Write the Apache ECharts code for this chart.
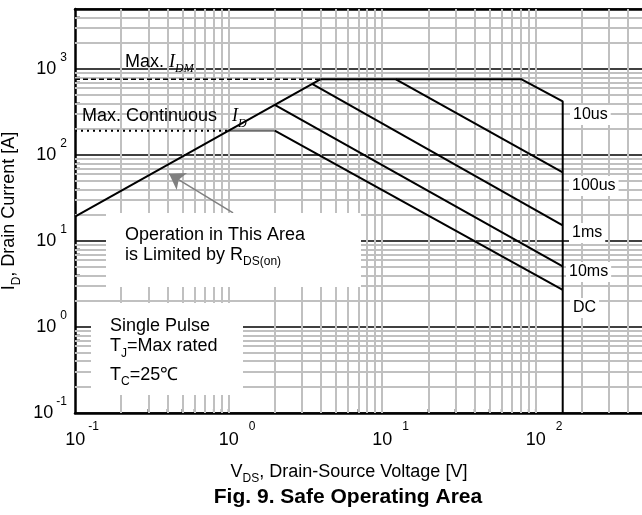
<!DOCTYPE html>
<html>
<head>
<meta charset="utf-8">
<script src="https://cdn.jsdelivr.net/npm/echarts@6/dist/echarts.min.js"></script>
<style>
  html, body { margin: 0; padding: 0; background: #fff; }
  #chart { width: 642px; height: 515px; }
</style>
</head>
<body>
<div id="chart"></div>
<script>
// SOA boundary pieces, points are [V_DS in V, I_D in A]
const rdsOnLimit = [[0.1, 19.2], [3.96, 760]];
const maxIdmLine = [[0.1, 760], [3.96, 760]];
const maxIdLine = [[0.1, 192], [1.0, 192]];
const dcPlateau = [[1.0, 192], [2.0, 192]];
const pulse10us = [[3.96, 760], [81, 760], [150, 420], [150, 0.1]];
const pulse100us = [[12.3, 760], [150, 62.8]];
const pulse1ms = [[3.5, 672], [150, 15.2]];
const pulse10ms = [[2.0, 384], [150, 5.07]];
const dcLine = [[2.0, 192], [150, 2.71]];
const arrowFromTo = [[1.07, 21.3], [0.41, 60.6]];

// log grid lines (2..9 of every decade)
const xGridValues = [0.2, 0.3, 0.4, 0.5, 0.6, 0.7, 0.8, 0.9, 1,
  2, 3, 4, 5, 6, 7, 8, 9, 10,
  20, 30, 40, 50, 60, 70, 80, 90, 100,
  200, 300, 400];
const yGridValues = [0.2, 0.3, 0.4, 0.5, 0.6, 0.7, 0.8, 0.9,
  2, 3, 4, 5, 6, 7, 8, 9,
  20, 30, 40, 50, 60, 70, 80, 90,
  200, 300, 400, 500, 600, 700, 800, 900,
  2000, 3000, 4000];

const SANS = 'Liberation Sans, Arial, sans-serif';
const SERIF = 'Liberation Serif, Times New Roman, serif';
const GRID_GRAY = '#c0c0c0';

var chart = echarts.init(document.getElementById('chart'));

function powLabel(v) {
  var lg = Math.log10(v);
  var e = Math.round(lg);
  if (Math.abs(lg - e) > 1e-6) return '';
  var neg = e < 0 ? 'n' : '';
  return '{m' + neg + '|10}{s' + neg + '|' + e + '}';
}

function curve(data, color, width, type, z) {
  return {
    type: 'line',
    data: data,
    showSymbol: false,
    silent: true,
    z: z || 20,
    lineStyle: { color: color || '#000', width: width || 2, type: type || 'solid', cap: 'butt' }
  };
}

function label(text, x, y) {
  return {
    type: 'text', x: x, y: y, z: 40, silent: true,
    style: {
      text: text, fontSize: 16, fontFamily: SANS, fill: '#000',
      verticalAlign: 'middle', backgroundColor: '#fff', padding: [2, 3]
    }
  };
}

var subRich = {
  n: { fontSize: 18, lineHeight: 26, fontFamily: SANS },
  b: { fontSize: 12, lineHeight: 12, fontFamily: SANS, verticalAlign: 'bottom' },
  i: { fontSize: 18, lineHeight: 26, fontFamily: SERIF, fontStyle: 'italic' },
  ib: { fontSize: 12, lineHeight: 12, fontFamily: SERIF, fontStyle: 'italic', verticalAlign: 'bottom' }
};

function note(text, x, y) {
  return {
    type: 'text', x: x, y: y, z: 30, silent: true,
    style: { text: text, rich: subRich, fill: '#000', verticalAlign: 'middle' }
  };
}

var option = {
  animation: false,
  backgroundColor: '#fff',
  title: {
    text: 'Fig. 9. Safe Operating Area',
    left: 348,
    top: 487,
    textAlign: 'center',
    padding: 0,
    textStyle: { fontSize: 21, fontWeight: 'bold', fontFamily: SANS, color: '#000' }
  },
  grid: { left: 75, right: -1, top: 9, bottom: 102, containLabel: false, outerBoundsMode: 'none' },
  xAxis: [{
    type: 'log',
    logBase: 10,
    min: 0.1,
    max: 500,
    name: '{n|V}{b|DS}{n|, Drain-Source Voltage [V]}',
    nameLocation: 'middle',
    nameGap: 46,
    nameTextStyle: { rich: subRich, color: '#000', padding: [0, 20, 0, 0] },
    axisLine: { show: true, lineStyle: { color: '#000', width: 2.5 } },
    axisTick: { show: false },
    splitLine: { show: false },
    axisLabel: {
      margin: 8,
      color: '#000',
      formatter: powLabel,
      rich: {
        m: { fontSize: 18, lineHeight: 38, fontFamily: SANS, padding: [0, 0, 0, 17] },
        s: { fontSize: 12, lineHeight: 12, fontFamily: SANS, verticalAlign: 'top', padding: [0, 0, 0, 10] },
        mn: { fontSize: 18, lineHeight: 38, fontFamily: SANS, padding: [0, 0, 0, 14] },
        sn: { fontSize: 12, lineHeight: 12, fontFamily: SANS, verticalAlign: 'top', padding: [0, 0, 0, 3] }
      }
    }
  }, {
    type: 'log',
    logBase: 10,
    min: 0.1,
    max: 500,
    position: 'top',
    axisLine: { show: true, lineStyle: { color: '#000', width: 2.5 } },
    axisTick: { show: false },
    axisLabel: { show: false },
    splitLine: { show: false }
  }],
  yAxis: {
    type: 'log',
    logBase: 10,
    min: 0.1,
    max: 5000,
    name: '{n|I}{b|D}{n|, Drain Current [A]}',
    nameLocation: 'middle',
    nameRotate: 90,
    nameGap: 46,
    nameTextStyle: { rich: subRich, color: '#000' },
    axisLine: { show: true, lineStyle: { color: '#000', width: 2.5 } },
    axisTick: { show: false },
    splitLine: { show: true, lineStyle: { color: '#000', width: 1.5 } },
    axisLabel: {
      margin: 8,
      color: '#000',
      formatter: powLabel,
      rich: {
        m: { fontSize: 18, lineHeight: 34, fontFamily: SANS },
        s: { fontSize: 12, lineHeight: 12, fontFamily: SANS, verticalAlign: 'top', padding: [0, 0, 0, 4] },
        mn: { fontSize: 18, lineHeight: 34, fontFamily: SANS },
        sn: { fontSize: 12, lineHeight: 12, fontFamily: SANS, verticalAlign: 'top', padding: [0, 0, 0, 3] }
      }
    }
  },
  graphic: [
    { type: 'rect', z: 10, silent: true, shape: { x: 106, y: 213, width: 255, height: 74 }, style: { fill: '#fff' } },
    { type: 'rect', z: 10, silent: true, shape: { x: 91, y: 303, width: 152, height: 92 }, style: { fill: '#fff' } },
    note('{n|Max. }{i|I}{ib|DM}', 125, 62),
    note('{n|Max. Continuous   }{i|I}{ib|D}', 82, 116.5),
    note('{n|Operation in This Area}', 125, 235.5),
    note('{n|is Limited by R}{b|DS(on)}', 125, 255),
    note('{n|Single Pulse}', 110, 326),
    note('{n|T}{b|J}{n|=Max rated}', 110, 346.5),
    note('{n|T}{b|C}{n|=25℃}', 110, 375),
    label('10us', 570, 115),
    label('100us', 569, 186),
    label('1ms', 569, 233),
    label('10ms', 566, 272),
    label('DC', 570, 308)
  ],
  series: [
    {
      type: 'line', data: [], silent: true, z: 1,
      markLine: {
        silent: true, symbol: 'none', animation: false,
        label: { show: false },
        lineStyle: { color: GRID_GRAY, width: 2, type: 'solid' },
        emphasis: { disabled: true },
        data: xGridValues.map(function (v) { return { xAxis: v }; })
          .concat(yGridValues.map(function (v) { return { yAxis: v }; }))
      }
    },
    {
      type: 'scatter', silent: true, clip: false, z: 3,
      data: xGridValues.map(function (v) { return [v, 0.1]; }),
      symbol: 'rect', symbolSize: [1.5, 4], symbolOffset: [0, -2],
      itemStyle: { color: '#000' }
    },
    {
      type: 'scatter', silent: true, clip: false, z: 3,
      data: yGridValues.map(function (v) { return [0.1, v]; }),
      symbol: 'rect', symbolSize: [5, 1.5], symbolOffset: [2.5, 0],
      itemStyle: { color: '#000' }
    },
    curve(maxIdmLine, '#000', 1.5, [5, 3], 15),
    curve(maxIdLine, '#000', 2, [2, 4], 15),
    curve(dcPlateau, '#6e6e6e', 2),
    curve(rdsOnLimit),
    curve(pulse10us),
    curve(pulse100us),
    curve(pulse1ms),
    curve(pulse10ms),
    curve(dcLine),
    {
      type: 'line', data: [], silent: true, z: 25,
      itemStyle: { color: '#808080' },
      markLine: {
        silent: true, animation: false,
        symbol: ['none', 'arrow'], symbolSize: 15,
        label: { show: false },
        emphasis: { disabled: true },
        itemStyle: { color: '#808080' },
        lineStyle: { color: '#808080', width: 1.5, type: 'solid' },
        data: [[{ coord: arrowFromTo[0] }, { coord: arrowFromTo[1] }]]
      }
    }
  ]
};

chart.setOption(option);
</script>
</body>
</html>
